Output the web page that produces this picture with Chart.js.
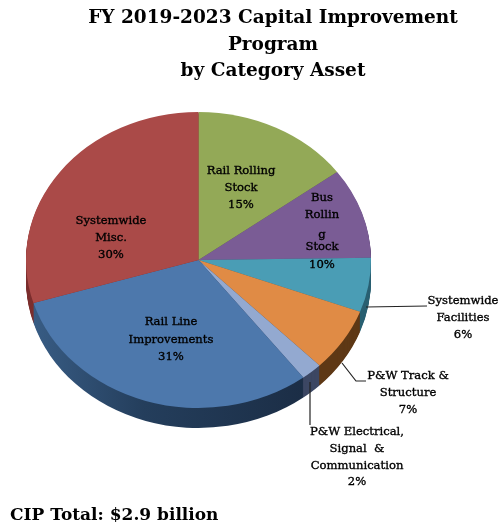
<!DOCTYPE html>
<html>
<head>
<meta charset="utf-8">
<title>FY 2019-2023 Capital Improvement Program</title>
<script src="https://cdn.jsdelivr.net/npm/chart.js@4/dist/chart.umd.js"></script>
<style>
  html, body { margin: 0; padding: 0; background: #fff; }
  canvas { display: block; filter: blur(0.5px); }
</style>
</head>
<body>
<canvas id="cip" width="501" height="525"></canvas>
<script>
// Slices, clockwise from 12 o'clock
const categories = [
  'Rail Rolling Stock', 'Bus Rolling Stock', 'Systemwide Facilities', 'P&W Track & Structure',
  'P&W Electrical, Signal & Communication', 'Rail Line Improvements', 'Systemwide Misc.'
];
const shares = [15, 10, 6, 7, 2, 31, 30];

const titleLines = ['FY 2019-2023 Capital Improvement', 'Program', 'by Category Asset'];
const footerText = 'CIP Total: $2.9 billion';

const sliceLabels = [
  ['Rail Rolling', 'Stock', '15%'],
  ['Bus', 'Rollin', 'g', 'Stock', '10%'],
  ['Systemwide', 'Facilities', '6%'],
  ['P&W Track &', 'Structure', '7%'],
  ['P&W Electrical,', 'Signal  &', 'Communication', '2%'],
  ['Rail Line', 'Improvements', '31%'],
  ['Systemwide', 'Misc.', '30%']
];

// Styles
const topColors = ['#93a957', '#7a5c95', '#4a9db5', '#e08b45', '#93a9d0', '#4d78ac', '#aa4a48'];
const sideColors = ['#5d6d36', '#4c3960', '#2a6072', '#5e3815', '#3c4763', null, '#7c2f2e'];

// Where each label's lines sit: centre x and the y of every line
const labelPlaces = [
  { x: 241, y: [171, 188, 205] },
  { x: 322, y: [198, 215, 235, 247, 265] },
  { x: 463, y: [301, 318, 335] },
  { x: 408, y: [376, 393, 410] },
  { x: 357, y: [432, 449, 466, 482] },
  { x: 171, y: [322, 340, 357] },
  { x: 111, y: [221, 238, 255] }
];
const leaderLines = [
  [[366, 307], [427, 306]],
  [[342, 363], [356, 381], [366, 381]],
  [[310, 382], [310, 425]]
];

const PIE_CENTER_Y = 260;
const SQUASH = 148 / 172.5;
const DEPTH = 20;

function squashed(ctx, arc, dy) {
  ctx.translate(arc.x, PIE_CENTER_Y + dy);
  ctx.scale(1, SQUASH);
  ctx.translate(-arc.x, -arc.y);
}

const tiltedPie = {
  id: 'tiltedPie',
  beforeDatasetsDraw(chart) {
    const ctx = chart.ctx;
    const arcs = chart.getDatasetMeta(0).data;

    // Blue slice's wall gets lighter toward the left
    const blueWall = ctx.createLinearGradient(33, 0, 310, 0);
    blueWall.addColorStop(0, '#385c84');
    blueWall.addColorStop(0.4, '#243e5c');
    blueWall.addColorStop(1, '#1b2d45');

    // Stack darker copies of the slices to get the wall
    for (let d = DEPTH; d >= 1; d--) {
      arcs.forEach((arc, i) => {
        const original = arc.options;
        arc.options = Object.create(original);
        arc.options.backgroundColor = sideColors[i] || blueWall;
        ctx.save();
        squashed(ctx, arc, d);
        arc.draw(ctx);
        ctx.restore();
        arc.options = original;
      });
    }

    ctx.save();
    squashed(ctx, arcs[0], 0);
  },
  afterDatasetsDraw(chart) {
    const ctx = chart.ctx;
    ctx.restore();

    // Leader lines
    ctx.strokeStyle = '#222';
    ctx.lineWidth = 1.2;
    leaderLines.forEach(pts => {
      ctx.beginPath();
      pts.forEach((p, i) => i ? ctx.lineTo(p[0], p[1]) : ctx.moveTo(p[0], p[1]));
      ctx.stroke();
    });

    // Slice labels, thickened a little to hold up under the blur
    ctx.fillStyle = '#000';
    ctx.strokeStyle = '#000';
    ctx.lineWidth = 0.35;
    ctx.textAlign = 'center';
    ctx.textBaseline = 'middle';
    ctx.font = '11.6px "DejaVu Serif"';
    sliceLabels.forEach((lines, i) => {
      lines.forEach((line, j) => {
        ctx.fillText(line, labelPlaces[i].x, labelPlaces[i].y[j]);
        ctx.strokeText(line, labelPlaces[i].x, labelPlaces[i].y[j]);
      });
    });

    // Title and footer
    ctx.font = 'bold 18.5px "DejaVu Serif"';
    ctx.fillText(titleLines[0], 273, 18);
    ctx.fillText(titleLines[1], 273, 45);
    ctx.fillText(titleLines[2], 273, 71);
    ctx.textAlign = 'left';
    ctx.font = 'bold 17px "DejaVu Serif"';
    ctx.fillText(footerText, 10, 516);
  }
};

new Chart(document.getElementById('cip'), {
  type: 'pie',
  data: {
    labels: categories,
    datasets: [{
      data: shares,
      backgroundColor: topColors,
      borderWidth: 0
    }]
  },
  options: {
    responsive: false,
    animation: false,
    layout: { padding: { left: 26, right: 130, top: 90, bottom: 90 } },
    plugins: {
      legend: { display: false },
      tooltip: { enabled: false }
    }
  },
  plugins: [tiltedPie]
});
</script>
</body>
</html>
